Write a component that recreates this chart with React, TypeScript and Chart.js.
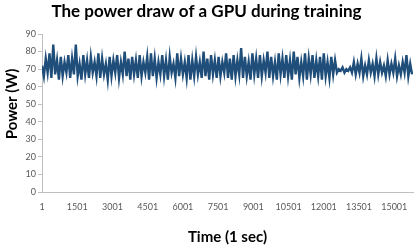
import React, { useEffect, useRef } from 'react';
import { Chart, registerables } from 'chart.js';

Chart.register(...registerables);

const TITLE = 'The power draw of a GPU during training';
const X_TITLE = 'Time (1 sec)';
const Y_TITLE = 'Power (W)';

const FIRST_TIME = 1;
const SAMPLE_STEP = 80; // seconds between plotted samples
const X_MAX = 15800;

const X_TICKS = [1, 1501, 3001, 4501, 6001, 7501, 9001, 10501, 12001, 13501, 15001];
const Y_TICKS = [0, 10, 20, 30, 40, 50, 60, 70, 80, 90];

// Power draw (W), one sample every SAMPLE_STEP seconds
const POWER = [
  72, 66, 76, 68, 79, 65, 84, 67, 75, 64,
  77, 66, 74, 68, 78, 65, 76, 67, 84, 66,
  73, 64, 78, 67, 75, 65, 77, 68, 74, 66,
  79, 65, 76, 67, 73, 64, 77, 66, 75, 68,
  78, 65, 74, 67, 80, 66, 76, 64, 77, 67,
  75, 65, 78, 66, 74, 68, 77, 64, 79, 66,
  76, 65, 74, 67, 78, 66, 75, 64, 77, 68,
  73, 65, 79, 66, 76, 67, 74, 65, 78, 64,
  75, 66, 77, 67, 74, 65, 80, 66, 76, 64,
  78, 67, 75, 65, 77, 66, 74, 68, 79, 65,
  76, 64, 78, 66, 75, 67, 82, 65, 77, 66,
  74, 64, 79, 67, 76, 65, 78, 66, 75, 68,
  80, 65, 77, 66, 74, 64, 79, 67, 76, 65,
  78, 66, 75, 64, 80, 67, 77, 65, 74, 66,
  79, 64, 76, 67, 78, 65, 75, 66, 77, 64,
  79, 66, 74, 65, 77, 67, 75, 68, 70, 69,
  71, 68, 70, 69, 71, 68, 74, 67, 73, 68,
  76, 66, 72, 67, 75, 68, 73, 66, 76, 67,
  74, 68, 72, 66, 75, 67, 73, 68, 76, 66,
  72, 67, 74, 68, 78, 66, 73, 67,
];

const LINE_COLOR = '#1f4e7a';
const AXIS_COLOR = '#bfbfbf';
const TICK_COLOR = '#595959';
const FONT = 'Lato, "Open Sans", sans-serif';

const yTitlePlugin = {
  id: 'yTitle',
  afterDraw(chart: any) {
    const { ctx, chartArea } = chart;
    ctx.save();
    ctx.fillStyle = '#000000';
    ctx.font = `bold 15px ${FONT}`;
    ctx.textAlign = 'center';
    ctx.textBaseline = 'middle';
    ctx.translate(12, (chartArea.top + chartArea.bottom) / 2 - 9);
    ctx.rotate(-Math.PI / 2);
    ctx.fillText(Y_TITLE, 0, 0);
    ctx.restore();
  },
};

export default function App() {
  const canvasRef = useRef<HTMLCanvasElement | null>(null);

  useEffect(() => {
    const canvas = canvasRef.current;
    if (!canvas) return;
    const points = POWER.map((v, i) => ({ x: FIRST_TIME + i * SAMPLE_STEP, y: v }));
    const chart = new Chart(canvas, {
      type: 'line',
      data: {
        datasets: [
          {
            data: points,
            borderColor: LINE_COLOR,
            borderWidth: 2.4,
            pointRadius: 0,
            tension: 0,
            fill: false,
          },
        ],
      },
      plugins: [yTitlePlugin],
      options: {
        responsive: false,
        animation: false,
        layout: { padding: { left: 0, right: 3, top: 0, bottom: 0 } },
        plugins: {
          legend: { display: false },
          tooltip: { enabled: false },
          title: {
            display: true,
            text: TITLE,
            color: '#000000',
            font: { family: FONT, size: 17, weight: 'bold', lineHeight: 1.2 },
            padding: { top: 1, bottom: 12.6 },
          },
        },
        scales: {
          x: {
            type: 'linear',
            min: FIRST_TIME,
            max: X_MAX,
            afterBuildTicks: (scale: any) => {
              scale.ticks = X_TICKS.map((v) => ({ value: v }));
            },
            afterFit: (scale: any) => {
              scale.height = 59;
            },
            grid: { display: false },
            border: { display: true, color: AXIS_COLOR, width: 1 },
            ticks: {
              autoSkip: false,
              maxRotation: 0,
              padding: 2,
              color: TICK_COLOR,
              font: { family: FONT, size: 9 },
              callback: (v: any) => String(v),
            },
            title: {
              display: true,
              text: X_TITLE,
              color: '#000000',
              font: { family: FONT, size: 15, weight: 'bold', lineHeight: 1.2 },
              padding: { top: 0, bottom: 5 },
            },
          },
          y: {
            min: 0,
            max: 90,
            afterBuildTicks: (scale: any) => {
              scale.ticks = Y_TICKS.map((v) => ({ value: v }));
            },
            afterFit: (scale: any) => {
              scale.width = 42;
            },
            grid: {
              display: true,
              drawOnChartArea: false,
              drawTicks: true,
              tickLength: 4,
              color: AXIS_COLOR,
            },
            border: { display: true, color: AXIS_COLOR, width: 1 },
            ticks: {
              padding: 2,
              color: TICK_COLOR,
              font: { family: FONT, size: 9 },
            },
          },
        },
      },
    });
    return () => {
      chart.destroy();
    };
  }, []);

  return (
    <div style={{ position: 'absolute', left: 0, top: 0, width: 416, height: 251, background: '#ffffff' }}>
      <canvas ref={canvasRef} width={416} height={251} style={{ display: 'block' }} />
    </div>
  );
}
